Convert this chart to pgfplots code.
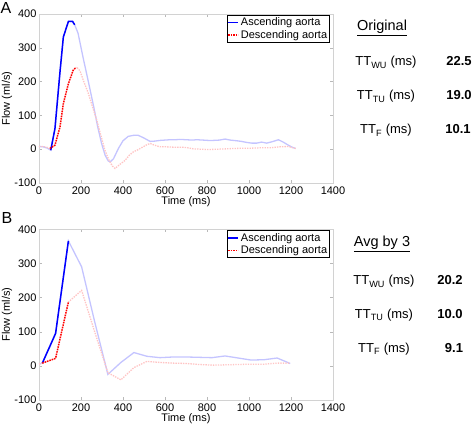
\documentclass[border=0pt]{standalone}
\usepackage{fontspec}
\setmainfont{Liberation Sans}
\usepackage{pgfplots}
\pgfplotsset{compat=1.18}
\definecolor{dblue}{RGB}{0,0,255}
\definecolor{lblue}{RGB}{196,196,255}
\definecolor{dred}{RGB}{255,0,0}
\definecolor{lred}{RGB}{255,196,196}
\pgfplotsset{
  flowax/.style={
    scale only axis, width=294pt, anchor=south west,
    xmin=0, xmax=1400, ymin=-100, ymax=400,
    xtick={0,200,...,1400}, ytick={-100,0,...,400},
    /pgf/number format/assume math mode=true,
    /pgf/number format/1000 sep={},
    tick label style={font=\fontsize{11}{13}\selectfont},
    axis line style={gray!35},
    tick style={gray!55, thin},
    tick align=inside, major tick length=3pt,
    yticklabel style={xshift=1pt},
    every axis y label/.style={at={(rel axis cs:0,0.5)}, xshift=-32pt, rotate=90, anchor=center, font=\fontsize{11}{13}\selectfont},
    xlabel={Time (ms)}, ylabel={Flow (ml/s)},
    legend style={at={(0.99,0.995)}, anchor=north east, draw=black, thick, font=\fontsize{11}{12.5}\selectfont,
      inner sep=0.5pt, row sep=-1pt, cells={anchor=west}},
    legend image code/.code={\draw[#1] (0pt,0pt) -- (10pt,0pt);},
    legend cell align=left,
  },
  lightb/.style={color=lblue, line width=1.3pt, forget plot},
  lightr/.style={color=lred, line width=1.3pt, dash pattern=on 1.4pt off 1.1pt, forget plot},
  darkb/.style={color=dblue, line width=1.5pt},
  darkr/.style={color=dred, line width=1.5pt, dash pattern=on 1.4pt off 1.1pt},
}
\begin{document}
\begin{tikzpicture}
\useasboundingbox (0pt,0pt) rectangle (472pt,-425pt);
% ---------------- panel A
\begin{axis}[flowax, at={(39pt,-183pt)}, height=169pt,
  every axis x label/.style={at={(rel axis cs:0.5,0)}, anchor=center, yshift=-19pt, font=\fontsize{11}{13}\selectfont}]
\addplot[lightb] coordinates {(0,8)(20,7)(40,3)(56,-3)(76,61)(100,229)(116,332)(140,378)(160,378)(170,368)(186,343)(211,268)(235,200)(259,130)(280,65)(298,17)(315,-18)(330,-35)(340,-37)(355,-28)(378,2)(400,25)(425,38)(450,41)(473,41)(500,33)(529,23)(552,24)(576,26)(600,27)(624,28)(650,28)(671,29)(700,28)(730,27)(751,28)(780,27)(806,26)(830,26)(860,27)(886,30)(910,27)(941,25)(965,23)(989,20)(1013,18)(1037,18)(1060,21)(1084,18)(1110,22)(1140,28)(1163,21)(1187,12)(1205,6)(1222,2)};
\addplot[lightr] coordinates {(0,8)(20,8)(40,5)(52,2)(76,12)(100,66)(116,135)(140,194)(163,234)(179,243)(195,232)(211,204)(235,165)(255,125)(275,86)(295,40)(314,-3)(335,-35)(350,-50)(362,-57)(385,-45)(410,-33)(430,-18)(449,-8)(470,-2)(490,5)(510,12)(529,17)(550,12)(576,7)(608,7)(640,6)(687,6)(710,4)(735,1)(770,0)(806,-1)(850,0)(890,1)(925,2)(970,3)(1010,3)(1050,4)(1100,4)(1148,7)(1187,8)(1205,5)(1222,2)};
\addplot[darkb] coordinates {(56,-3)(76,61)(100,229)(116,332)(140,378)(160,378)(170,368)};
\addlegendentry{Ascending aorta}
\addplot[darkr] coordinates {(52,2)(76,12)(100,66)(116,135)(140,194)(163,234)(175,241)};
\addlegendentry{Descending aorta}
\end{axis}
% ---------------- panel B
\begin{axis}[flowax, at={(39pt,-400pt)}, height=170.7pt,
  every axis x label/.style={at={(rel axis cs:0.5,0)}, anchor=center, yshift=-18.5pt, font=\fontsize{11}{13}\selectfont}]
\addplot[lightb] coordinates {(0,5)(16,8)(79,95)(140,366)(203,290)(266,127)(328,-25)(390,10)(452,39)(514,28)(576,24)(638,26)(700,26)(762,25)(824,24)(886,29)(948,23)(1010,17)(1072,18)(1134,23)(1196,7)};
\addplot[lightr] coordinates {(0,5)(16,8)(79,22)(140,187)(203,221)(266,98)(328,-20)(390,-41)(452,-5)(514,13)(576,10)(638,8)(700,7)(762,4)(824,2)(886,3)(948,4)(1010,5)(1072,5)(1134,8)(1196,8)};
\addplot[darkb] coordinates {(16,8)(79,95)(140,366)};
\addlegendentry{Ascending aorta}
\addplot[darkr] coordinates {(16,8)(79,22)(140,187)};
\addlegendentry{Descending aorta}
\end{axis}
% ---------------- panel letters
\node[anchor=base west, inner sep=0pt, font=\fontsize{16}{18}\selectfont] at (0.5pt,-14pt) {A};
\node[anchor=base west, inner sep=0pt, font=\fontsize{16}{18}\selectfont] at (1.5pt,-224pt) {B};
% ---------------- right panel A
\node[anchor=base, inner sep=0pt, font=\fontsize{14.5}{16}\selectfont] at (382pt,-31pt) {\underline{Original}};
\node[anchor=base, inner sep=0pt, font=\fontsize{13}{15}\selectfont] at (386pt,-66pt) {TT\textsubscript{WU} (ms)};
\node[anchor=base, inner sep=0pt, font=\fontsize{13}{15}\selectfont] at (386pt,-100pt) {TT\textsubscript{TU} (ms)};
\node[anchor=base, inner sep=0pt, font=\fontsize{13}{15}\selectfont] at (386pt,-134pt) {TT\textsubscript{F} (ms)};
\node[anchor=base, inner sep=0pt, font=\fontsize{13}{15}\selectfont\bfseries] at (459pt,-66pt) {22.5};
\node[anchor=base, inner sep=0pt, font=\fontsize{13}{15}\selectfont\bfseries] at (459pt,-100pt) {19.0};
\node[anchor=base, inner sep=0pt, font=\fontsize{13}{15}\selectfont\bfseries] at (458pt,-134pt) {10.1};
% ---------------- right panel B
\node[anchor=base, inner sep=0pt, font=\fontsize{14.5}{16}\selectfont] at (382pt,-246.5pt) {\underline{Avg by 3}};
\node[anchor=base, inner sep=0pt, font=\fontsize{13}{15}\selectfont] at (384pt,-285pt) {TT\textsubscript{WU} (ms)};
\node[anchor=base, inner sep=0pt, font=\fontsize{13}{15}\selectfont] at (384pt,-318.5pt) {TT\textsubscript{TU} (ms)};
\node[anchor=base, inner sep=0pt, font=\fontsize{13}{15}\selectfont] at (384pt,-352.5pt) {TT\textsubscript{F} (ms)};
\node[anchor=base, inner sep=0pt, font=\fontsize{13}{15}\selectfont\bfseries] at (450pt,-285pt) {20.2};
\node[anchor=base, inner sep=0pt, font=\fontsize{13}{15}\selectfont\bfseries] at (450pt,-318.5pt) {10.0};
\node[anchor=base, inner sep=0pt, font=\fontsize{13}{15}\selectfont\bfseries] at (454pt,-352.5pt) {9.1};
\end{tikzpicture}
\end{document}
